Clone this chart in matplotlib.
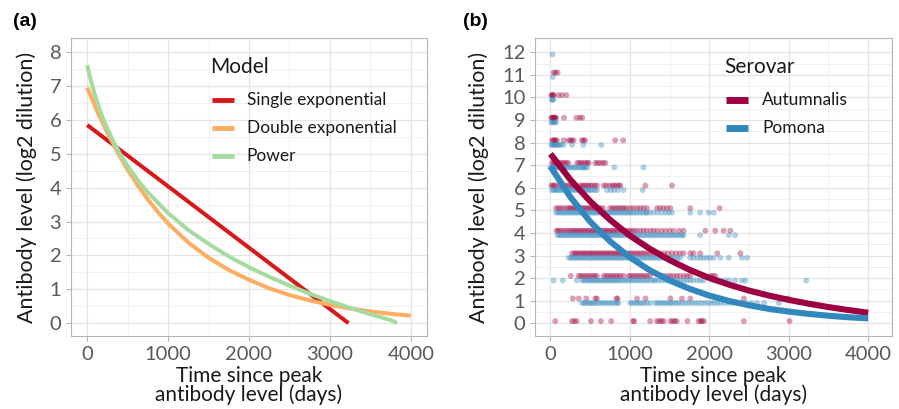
import matplotlib
matplotlib.use("Agg")
import matplotlib.pyplot as plt
import numpy as np

plt.rcParams['font.family'] = ['Lato', 'DejaVu Sans']

# ---- panel (a): fitted model curves ----
single_t = [0, 3230]
single_y = [5.85, 0.0]

double_t = [0, 125, 250, 375, 500, 625, 750, 875, 1000, 1250, 1500, 1750, 2000, 2250, 2500, 2750,
            3000, 3250, 3500, 3750, 4000]
double_y = [6.96, 6.25, 5.62, 5.05, 4.53, 4.07, 3.65, 3.28, 2.94, 2.38, 1.93, 1.57, 1.28, 1.03, 0.83, 0.67,
            0.54, 0.43, 0.345, 0.275, 0.22]

power_t = [0, 50, 100, 150, 200, 300, 400, 500, 625, 750, 1000, 1250, 1500, 1750, 2000, 2250, 2500, 2750,
           3000, 3250, 3500, 3750, 3830]
power_y = [7.62, 7.13, 6.70, 6.34, 6.02, 5.48, 5.02, 4.64, 4.22, 3.86, 3.25, 2.75, 2.34, 1.97, 1.65, 1.37,
           1.11, 0.87, 0.65, 0.45, 0.265, 0.09, 0.0]

models = ['Single exponential', 'Double exponential', 'Power']
model_colors = ['#D7191C', '#FDAE61', '#A6DBA0']

# ---- panel (b): observations by titre level (index = log2 level) ----
aut_days_by_level = [
    [60, 270, 300, 330, 510, 635, 765, 1040, 1055, 1255, 1340, 1370, 1400, 1425, 1510, 1540, 1565, 1590,
     1725, 1865, 1890, 1910, 1930, 2435, 3010],
    [280, 355, 450, 565, 585, 830, 845, 1090, 1195, 1510, 1655, 1760, 2435, 2990],
    [255, 355, 380, 410, 440, 470, 500, 530, 560, 585, 670, 700, 730, 760, 790, 820, 850, 880, 920, 985,
     1010, 1040, 1070, 1100, 1130, 1160, 1190, 1220, 1255, 1425, 1470, 1510, 1550, 1590, 1630, 1680, 1720,
     1760, 2015, 2045, 2075],
    [270, 300, 320, 345, 370, 395, 420, 440, 465, 490, 510, 535, 560, 585, 610, 635, 660, 685, 710, 735,
     760, 785, 810, 835, 860, 885, 910, 940, 970, 1000, 1030, 1060, 1090, 1120, 1150, 1180, 1215, 1250,
     1290, 1330, 1380, 1430, 1480, 1530, 1580, 1630, 1675, 1760, 1800, 1885, 2100, 2390],
    [75, 95, 120, 150, 180, 210, 240, 265, 290, 315, 340, 365, 390, 415, 440, 465, 490, 515, 540, 565,
     590, 615, 640, 665, 690, 715, 740, 765, 790, 815, 840, 870, 900, 930, 960, 990, 1020, 1050, 1085,
     1130, 1170, 1210, 1260, 1300, 1345, 1400, 1450, 1500, 1550, 1620, 1675, 1950, 2075, 2180, 2265],
    [70, 100, 130, 165, 205, 230, 255, 280, 305, 330, 355, 380, 405, 430, 455, 480, 505, 530, 555, 580,
     605, 630, 665, 750, 780, 810, 840, 870, 900, 930, 960, 1005, 1045, 1090, 1130, 1170, 1215, 1340,
     1380, 1420, 1465, 1510, 1760, 2130],
    [10, 30, 50, 75, 120, 150, 180, 210, 240, 270, 290, 375, 400, 425, 450, 475, 500, 530, 560, 585, 670,
     700, 740, 780, 800, 830, 860, 880, 1195, 1530],
    [20, 40, 60, 80, 100, 125, 150, 175, 200, 225, 335, 360, 385, 410, 440, 465, 480, 565, 595, 625, 660, 690],
    [20, 35, 50, 65, 80, 165, 225, 250, 270, 290, 395, 415, 435, 815, 915],
    [10, 20, 30, 40, 50, 60, 70, 170, 325, 370, 400],
    [10, 20, 30, 40, 100, 145, 200],
    [40, 60, 90],
]

pom_days_by_level = [
    [],
    [395, 420, 445, 470, 495, 520, 545, 570, 600, 630, 660, 690, 720, 750, 780, 810, 840, 855, 1005, 1030,
     1060, 1090, 1120, 1150, 1180, 1215, 1255, 1320, 1350, 1380, 1410, 1440, 1470, 1500, 1530, 1560, 1590,
     1620, 1660, 1700, 1740, 1780, 1820, 1860, 1900, 1940, 1980, 2020, 2060, 2100, 2140, 2190, 2240, 2290,
     2340, 2400, 2460, 2530, 2600, 2690, 2875],
    [40, 155, 330, 395, 420, 445, 470, 495, 520, 545, 570, 595, 620, 645, 670, 695, 720, 745, 770, 795,
     820, 845, 870, 900, 930, 960, 990, 1020, 1050, 1080, 1110, 1140, 1170, 1200, 1230, 1265, 1300, 1320,
     1360, 1400, 1440, 1480, 1520, 1560, 1600, 1640, 1680, 1720, 1760, 1800, 1850, 1890, 1930, 2055, 2100,
     2150, 2200, 2250, 2325, 2410, 2455, 3220],
    [230, 255, 280, 305, 330, 355, 380, 405, 430, 455, 480, 505, 530, 555, 580, 605, 630, 655, 680, 705,
     730, 755, 780, 805, 830, 855, 880, 905, 930, 960, 990, 1020, 1050, 1080, 1110, 1140, 1170, 1200, 1230,
     1260, 1290, 1320, 1350, 1380, 1410, 1440, 1470, 1500, 1530, 1565, 1600, 1635, 1760, 1800, 1850, 1890,
     1930, 1970, 2010, 2055, 2140, 2245, 2410, 2475],
    [90, 110, 135, 160, 185, 210, 235, 260, 285, 310, 335, 360, 385, 410, 435, 460, 485, 510, 535, 560,
     585, 610, 635, 660, 685, 710, 735, 760, 785, 810, 835, 860, 885, 910, 940, 970, 1000, 1030, 1060, 1090,
     1120, 1150, 1180, 1210, 1240, 1270, 1300, 1330, 1360, 1390, 1420, 1450, 1480, 1510, 1540, 1570, 1600,
     1630, 1660, 1675, 1885, 2245, 2325],
    [70, 95, 120, 145, 170, 195, 220, 245, 270, 295, 320, 345, 370, 395, 420, 445, 470, 495, 520, 545, 570,
     595, 620, 645, 670, 695, 720, 745, 770, 795, 820, 845, 870, 895, 920, 945, 970, 995, 1020, 1050, 1080,
     1110, 1140, 1170, 1200, 1215, 1250, 1300, 1350, 1400, 1450, 1490, 1530, 1760, 1885, 1990, 2055],
    [20, 40, 60, 80, 100, 125, 150, 175, 200, 225, 250, 275, 300, 325, 350, 375, 400, 425, 450, 475, 500,
     530, 560, 585, 710, 760, 800, 850, 920, 1160],
    [0, 15, 30, 45, 60, 80, 100, 120, 140, 160, 180, 200, 225, 250, 275, 300, 325, 350, 380, 400, 420, 440,
     460, 805, 1170],
    [10, 25, 40, 55, 70, 90, 110, 130, 165, 270, 415, 640],
    [10, 25, 40, 55, 70],
    [15, 25, 38],
    [30],
    [25],
]

# fitted serovar curves
fit_t = [0, 250, 500, 750, 1000, 1250, 1500, 1750, 2000, 2250, 2500, 2750, 3000, 3250, 3500, 3750, 4000]
aut_fit = [7.5, 6.36, 5.4, 4.58, 3.88, 3.3, 2.8, 2.37, 2.01, 1.71, 1.45, 1.23, 1.04, 0.87, 0.72, 0.59, 0.47]
pom_fit = [6.94, 5.59, 4.5, 3.63, 2.92, 2.35, 1.9, 1.53, 1.23, 0.99, 0.8, 0.64, 0.52, 0.42, 0.335, 0.27, 0.22]

serovars = ['Autumnalis', 'Pomona']
serovar_colors = ['#9E0142', '#3288BD']
serovar_offset = [0.1, -0.1]

tick_col = '#595959'
grid_col = '#E4E4E4'


def style_axes(ax):
    ax.set_facecolor('white')
    for s in ax.spines.values():
        s.set_color('#B5B5B5')
        s.set_linewidth(0.8)
    ax.grid(True, which='major', color=grid_col, linewidth=0.9)
    ax.grid(True, which='minor', color='#EFEFEF', linewidth=0.6)
    ax.set_axisbelow(True)
    ax.tick_params(which='major', colors='#B5B5B5', labelcolor=tick_col, labelsize=14.5, length=3.5, width=0.8)
    ax.tick_params(which='minor', length=0)
    ax.set_xlabel('Time since peak\nantibody level (days)', fontsize=15, color='#1A1A1A', labelpad=2.5,
                  linespacing=0.92)
    ax.set_ylabel('Antibody level (log2 dilution)', fontsize=15.5, color='#1A1A1A', labelpad=9)


def draw_legend(ax, title, names, colors, lw):
    # ggplot-style legend placed inside the panel (axes fraction coords)
    x0, x1, xt = ax._leg_pos
    ax.text(x0 - 0.006, 0.903, title, transform=ax.transAxes, fontsize=15, color='#1A1A1A',
            va='center', ha='left')
    rows = [0.792, 0.698, 0.604]
    for name, col, yy in zip(names, colors, rows):
        ax.plot([x0, x1], [yy, yy], transform=ax.transAxes, color=col, linewidth=lw,
                solid_capstyle='butt', clip_on=False)
        ax.text(xt, yy, name, transform=ax.transAxes, fontsize=12.5, color='#1A1A1A',
                va='center', ha='left')


fig = plt.figure(figsize=(8.99, 4.09), dpi=100)
ax1 = fig.add_axes([71 / 899, 73 / 409, 356 / 899, 298 / 409])
ax2 = fig.add_axes([535 / 899, 73 / 409, 357 / 899, 298 / 409])

# panel (a)
curves = [(single_t, single_y), (double_t, double_y), (power_t, power_y)]
for (t, y), name, col in zip(curves, models, model_colors):
    ax1.plot(t, y, color=col, linewidth=2.9, label=name, solid_capstyle='butt')
ax1.set_xlim(-200, 4200)
ax1.set_ylim(-0.38, 8.42)
ax1.set_xticks([0, 1000, 2000, 3000, 4000])
ax1.set_xticks([500, 1500, 2500, 3500], minor=True)
ax1.set_yticks(range(0, 9))
ax1.set_yticks(np.arange(0.5, 8, 1), minor=True)
style_axes(ax1)
ax1._leg_pos = (0.396, 0.458, 0.494)
draw_legend(ax1, 'Model', models, model_colors, 3.5)

# panel (b)
for levels, off, col in zip([aut_days_by_level, pom_days_by_level], serovar_offset, serovar_colors):
    xs, ys = [], []
    for lvl, days in enumerate(levels):
        xs += days
        ys += [lvl + off] * len(days)
    ax2.scatter(xs, ys, s=18, color=col, alpha=0.38, edgecolors='none', zorder=2)
for fit, name, col in zip([aut_fit, pom_fit], serovars, serovar_colors):
    ax2.plot(fit_t, fit, color=col, linewidth=4.4, label=name, zorder=3, solid_capstyle='butt')
ax2.set_xlim(-195, 4300)
ax2.set_ylim(-0.56, 12.63)
ax2.set_xticks([0, 1000, 2000, 3000, 4000])
ax2.set_xticks([500, 1500, 2500, 3500], minor=True)
ax2.set_yticks(range(0, 13))
ax2.set_yticks(np.arange(0.5, 12, 1), minor=True)
style_axes(ax2)
ax2._leg_pos = (0.535, 0.597, 0.636)
draw_legend(ax2, 'Serovar', serovars, serovar_colors, 5.0)

fig.text(13 / 899, 1 - 22 / 409, '(a)', fontsize=14, fontweight='bold', va='center', ha='left',
         family='Liberation Sans')
fig.text(463 / 899, 1 - 22 / 409, '(b)', fontsize=14, fontweight='bold', va='center', ha='left',
         family='Liberation Sans')

fig.savefig('out.png', dpi=100)
